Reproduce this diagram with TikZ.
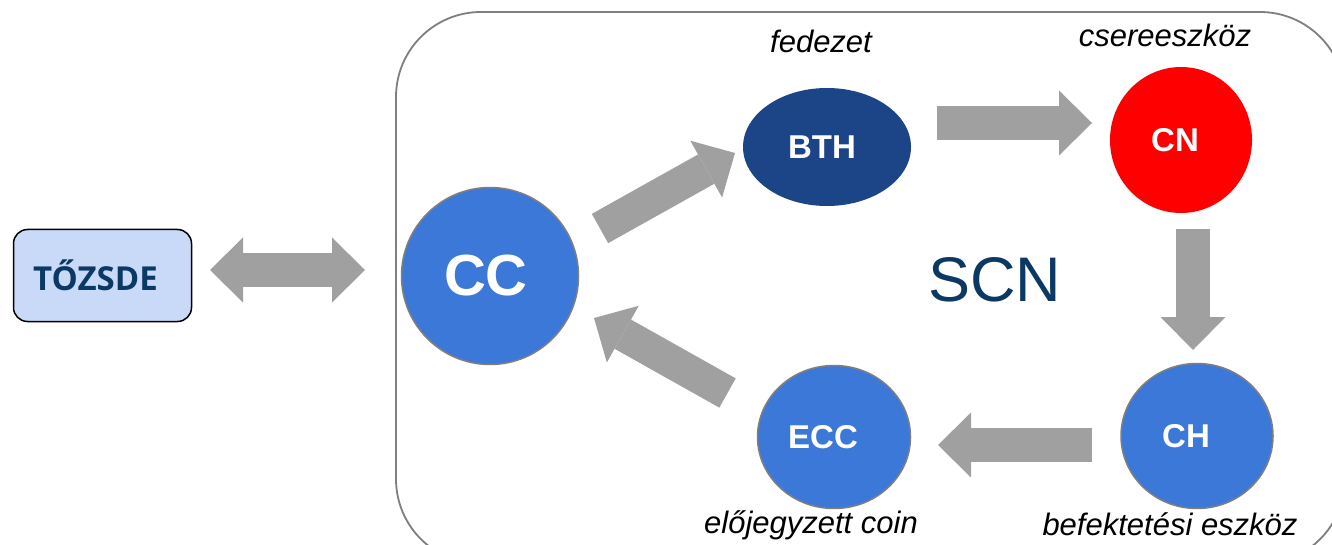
\documentclass[tikz,border=0pt]{standalone}
\usepackage{fontspec}
\setmainfont{Liberation Sans}
\newfontfamily\boxfont{Open Sans}
\usepackage{tikz}
\usetikzlibrary{shapes.geometric,arrows.meta,positioning}

\definecolor{boxblue}{HTML}{C9DAF8}
\definecolor{navytext}{HTML}{0C3864}
\definecolor{bthblue}{HTML}{1C4587}
\definecolor{coinblue}{HTML}{3C78D8}
\definecolor{arrowgray}{HTML}{A0A0A0}
\definecolor{framegray}{HTML}{7F7F7F}

\begin{document}
\begin{tikzpicture}[x=1pt,y=-1pt]

	\tikzstyle{coin} = [ellipse, draw=framegray, line width=1.5pt, fill=coinblue, inner sep=0pt]
	\tikzstyle{coinlabel} = [text=white, inner sep=0pt, font=\fontsize{33}{38}\selectfont\bfseries]
	\tikzstyle{note} = [anchor=base, inner sep=0pt, font=\fontsize{31}{36}\selectfont\itshape]
	\tikzstyle{fatarrow} = [draw=arrowgray, line width=33.5pt,
		-{Triangle[length=33pt,width=65pt,line width=0pt]}]
	\tikzstyle{fatboth} = [fatarrow,
		{Triangle[length=33pt,width=65pt,line width=0pt]}-{Triangle[length=33pt,width=65pt,line width=0pt]}]

	\useasboundingbox (0,0) rectangle (1332,545);
	\fill[white] (0,0) rectangle (1332,545);

	% frame of the network
	\draw[framegray, line width=1.8pt, rounded corners=85pt] (396,12) rectangle (1345,564);

	\node[draw=black, line width=1.5pt, fill=boxblue, rounded corners=14pt,
		minimum width=178pt, minimum height=92pt,
		label={[inner sep=0pt, xshift=-7pt, text=navytext, font=\boxfont\bfseries\fontsize{33}{36}\selectfont]center:TŐZSDE}]
		(tozsde) at (102.5,275.5) {};

	\node[coin, circle, minimum size=177pt,
		label={[coinlabel, xshift=-4pt, font=\fontsize{58}{62}\selectfont\bfseries]center:CC}]
		(cc) at (490,276) {};
	\node[coin, draw=none, fill=bthblue, minimum width=168pt, minimum height=118pt,
		label={[coinlabel, xshift=-5pt]center:BTH}] (bth) at (827,147) {};
	\node[coin, draw=none, fill=red, minimum width=142pt, minimum height=146pt,
		label={[coinlabel, xshift=-6pt]center:CN}] (cn) at (1181,140) {};
	\node[coin, minimum width=152pt, minimum height=145pt,
		label={[coinlabel, xshift=-11pt]center:CH}] (ch) at (1197,436) {};
	\node[coin, minimum width=153pt, minimum height=143pt,
		label={[coinlabel, xshift=-11pt]center:ECC}] (ecc) at (834,437) {};

	% roles
	\node[note] (fedezet) at (821,53) {fedezet};
	\node[note] (csere) at (1165,47) {csereeszköz};
	\node[note] (elojegyzett) at (811,533) {előjegyzett coin};
	\node[note] (befektetesi) at (1170,535) {befektetési eszköz};

	\node[anchor=base, inner sep=0pt, text=navytext, font=\fontsize{63}{66}\selectfont]
		(scn) at (994.5,301) {SCN};

	% flows
	\draw[fatboth] ([shift={(107.5,-5.5)}]tozsde.center) -- ([shift={(-125,-6)}]cc.center);
	\draw[fatarrow] ([shift={(110,-47.5)}]cc.center) -- ([shift={(-92,6)}]bth.center);
	\draw[fatarrow] ([shift={(110,-24)}]bth.center) -- ([shift={(-89,-17)}]cn.center);
	\draw[fatarrow] ([shift={(12,89)}]cn.center) -- ([shift={(-4,-86)}]ch.center);
	\draw[fatarrow] ([shift={(-105,9)}]ch.center) -- ([shift={(104,8)}]ecc.center);
	\draw[fatarrow] ([shift={(-106.5,-44)}]ecc.center) -- ([shift={(104,42)}]cc.center);

\end{tikzpicture}
\end{document}
